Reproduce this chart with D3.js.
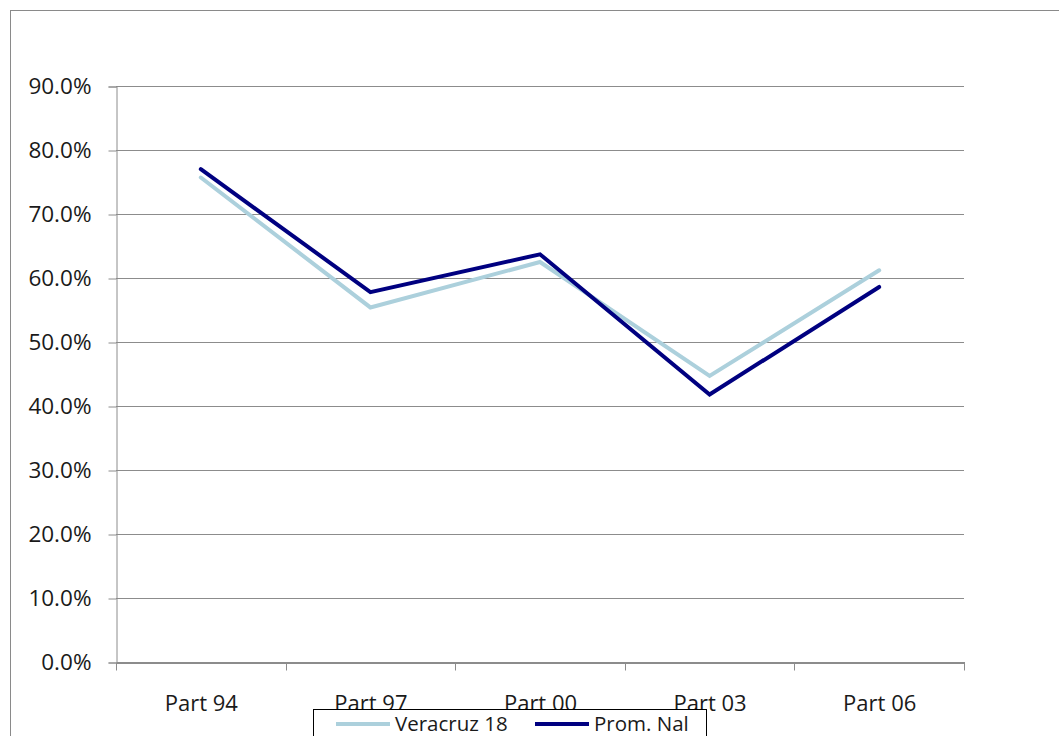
<!DOCTYPE html>
<meta charset="utf-8" />
<script src="https://d3js.org/d3.v7.min.js"></script>
<style>
  body { margin: 0; background: #fff; }
  text { font-family: "Open Sans", "Noto Sans", sans-serif; }
</style>
<body>
<div id="chart"></div>
</body>
<script>
  // data
  const categories = ["Part 94", "Part 97", "Part 00", "Part 03", "Part 06"];
  const veracruz = [0.757, 0.554, 0.625, 0.447, 0.612];
  const promNal = [0.770, 0.578, 0.637, 0.418, 0.586];
  const yTicks = [0, 0.1, 0.2, 0.3, 0.4, 0.5, 0.6, 0.7, 0.8, 0.9];

  const series = [
    {name: "Veracruz 18", values: veracruz, color: "#acd0dc"},
    {name: "Prom. Nal", values: promNal, color: "#000080"}
  ];

  const W = 1059, H = 736;
  const svg = d3.select("#chart").append("svg")
      .attr("width", W)
      .attr("height", H);

  // outer frame of the chart area (clipped by the window)
  svg.append("rect")
      .attr("x", 10.5).attr("y", 10.5)
      .attr("width", 1100).attr("height", 800)
      .attr("fill", "none")
      .attr("stroke", "#8a8a8a");

  const x = d3.scaleBand().domain(categories).range([116, 964]);
  const y = d3.scaleLinear().domain([0, 0.9]).range([662, 86]);

  // gridlines
  svg.append("g")
    .selectAll("line")
    .data(yTicks.slice(1))
    .join("line")
      .attr("x1", 116).attr("x2", 964)
      .attr("y1", d => Math.round(y(d)) + 0.5)
      .attr("y2", d => Math.round(y(d)) + 0.5)
      .attr("stroke", "#8c8c8c");

  // y axis
  const yAxis = svg.append("g")
      .attr("transform", "translate(116.5,0.5)")
      .call(d3.axisLeft(y).tickValues(yTicks).tickFormat(d3.format(".1%")).tickSize(8).tickPadding(17));
  yAxis.select(".domain").attr("stroke", "#8c8c8c");
  yAxis.selectAll(".tick line").attr("stroke", "#8c8c8c");
  yAxis.selectAll("text")
      .attr("font-size", 22.5)
      .attr("fill", "#1a1a1a")
      .style("font-family", "'Open Sans', 'Noto Sans', sans-serif");

  // x axis
  const xAxis = svg.append("g")
      .attr("transform", "translate(0.5," + (y(0) + 0.5) + ")")
      .call(d3.axisBottom(x).tickSize(0).tickPadding(33));
  xAxis.select(".domain").attr("stroke", "#8c8c8c").attr("stroke-width", 2);
  xAxis.selectAll("text")
      .attr("font-size", 22)
      .attr("fill", "#1a1a1a")
      .style("font-family", "'Open Sans', 'Noto Sans', sans-serif");
  // boundary ticks between categories
  const bounds = categories.map(c => x(c)).concat([x.range()[1]]);
  xAxis.selectAll(".bound")
    .data(bounds)
    .join("line")
      .attr("class", "bound")
      .attr("x1", d => Math.round(d)).attr("x2", d => Math.round(d))
      .attr("y1", 0).attr("y2", 8)
      .attr("stroke", "#8c8c8c");

  // lines
  const line = d3.line()
      .x((d, i) => x(categories[i]) + x.bandwidth() / 2)
      .y(d => y(d));

  svg.append("g")
    .selectAll("path")
    .data(series)
    .join("path")
      .attr("d", d => line(d.values))
      .attr("fill", "none")
      .attr("stroke", d => d.color)
      .attr("stroke-width", 4)
      .attr("stroke-linejoin", "miter")
      .attr("stroke-linecap", "round");

  // legend
  const legend = svg.append("g");
  legend.append("rect")
      .attr("x", 313.5).attr("y", 709.5)
      .attr("width", 393).attr("height", 40)
      .attr("fill", "#fff")
      .attr("stroke", "#000");

  const items = legend.selectAll(".item")
    .data(series)
    .join("g")
      .attr("class", "item")
      .attr("transform", (d, i) => "translate(" + (336 + i * 199) + ",724)");
  items.append("line")
      .attr("x1", 0).attr("x2", 54)
      .attr("stroke", d => d.color)
      .attr("stroke-width", 4);
  items.append("text")
      .attr("x", 59).attr("y", 7)
      .attr("font-size", 20.5)
      .attr("fill", "#1a1a1a")
      .text(d => d.name);
</script>
